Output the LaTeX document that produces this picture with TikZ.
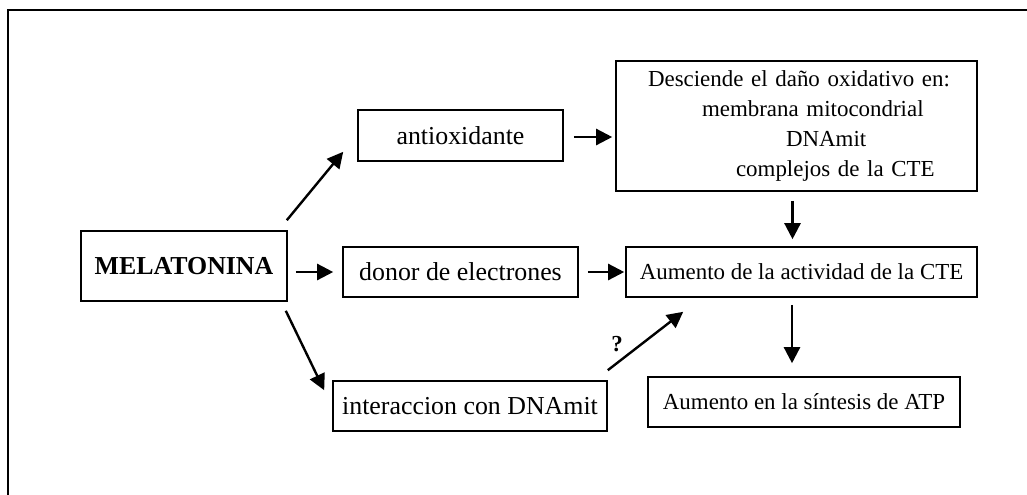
\documentclass[tikz,border=0pt]{standalone}
\usepackage{fontspec}
\setmainfont{Liberation Serif}
\usetikzlibrary{arrows.meta,calc}
\newdimen\pxu \pxu=0.75pt
\tikzset{
  box/.style={draw, line width=1.2pt, inner sep=0pt, font=\fontsize{19.4}{23}\selectfont},
  smallbox/.style={draw, line width=1.2pt, inner sep=0pt, font=\fontsize{17.2}{22.5}\selectfont},
  arr/.style={line width=1.8pt, -{Triangle[length=12pt,width=12pt]}},
  frame/.style={line width=1.7pt}
}
\begin{document}
\begin{tikzpicture}[x=0.75pt,y=-0.75pt]
\useasboundingbox (0,0) rectangle (1027,494);
\coordinate (ftl) at (8,10);
\coordinate (ftr) at (1030,10);
\coordinate (fbl) at (8,497);
\draw[frame] (ftr) -- (ftl) -- (fbl);

\node[box, minimum width=206\pxu, minimum height=70\pxu] (mel) at (184,266) {\textbf{MELATONINA}};
\node[box, minimum width=205\pxu, minimum height=51\pxu] (anti) at (460.5,135.5) {antioxidante};
\node[box, minimum width=235\pxu, minimum height=50\pxu] (donor) at (460.5,272) {donor de electrones};
\node[box, minimum width=274\pxu, minimum height=50\pxu] (inter) at (470,406) {interaccion con DNAmit};
\node[smallbox, minimum height=130\pxu, text width=297\pxu, inner xsep=32\pxu, align=left] (desc) at (796.5,126)
  {\mbox{Desciende el daño oxidativo en:}\\
   \hspace*{54\pxu}membrana mitocondrial\\
   \hspace*{138\pxu}DNAmit\\
   \hspace*{88\pxu}complejos de la CTE};
\node[smallbox, minimum width=351\pxu, minimum height=50\pxu] (cte) at (801.5,272) {Aumento de la actividad de la CTE};
\node[smallbox, minimum width=312\pxu, minimum height=50\pxu] (atp) at (804,402) {Aumento en la síntesis de ATP};

\draw[arr] ($(mel.north east)+(-1,-10)$) -- ($(anti.south west)+(-14,-10)$);
\draw[arr] ($(anti.east)+(10,1.5)$) -- ($(desc.west |- anti.east)+(-3,1.5)$);
\draw[arr] ($(mel.east |- donor.west)+(8,0)$) -- ($(donor.west)+(-9,0)$);
\draw[arr] ($(donor.east)+(9,0)$) -- ($(cte.west)+(-1,0)$);
\draw[arr] ($(mel.south east)+(-2,9)$) -- ($(inter.north west)+(-8,10)$);
\draw[arr] ($(inter.north east)+(0,-10)$) -- node[pos=0.25, above left, inner sep=2pt, font=\fontsize{17.2}{20}\selectfont\bfseries] (q) {?} ($(cte.south west)+(58,14)$);
\draw[arr] ($(desc.south)+(-4,9)$) -- ($(desc.south |- cte.north)+(-4,-7)$);
\draw[arr] ($(cte.south)+(-9.5,7)$) -- ($(cte.south |- atp.north)+(-9.5,-13)$);
\end{tikzpicture}
\end{document}
